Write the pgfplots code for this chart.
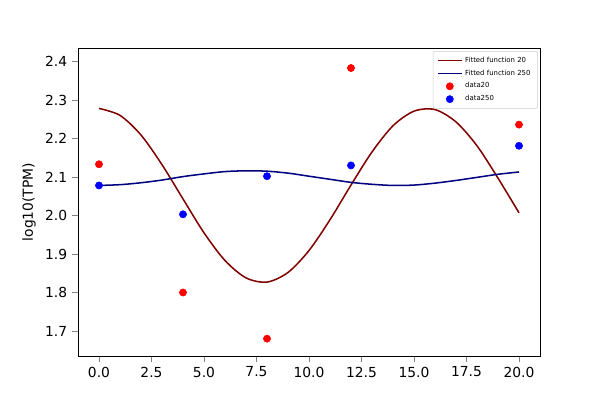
\documentclass[border=0pt]{standalone}
\usepackage{pgfplots}
\pgfplotsset{compat=1.18}
\usepackage{fontspec}
\setmainfont{DejaVu Sans}
\begin{document}
\begin{tikzpicture}
\begin{axis}[at={(0.03in,0)},anchor=south west,scale only axis,width=4.62in,height=3.08in,
xmin=-1,xmax=21,ymin=1.635,ymax=2.435,
xtick={0,2.5,...,20},ytick={1.7,1.8,...,2.41},
xticklabel style={/pgf/number format/.cd,fixed,fixed zerofill,precision=1},
yticklabel style={/pgf/number format/.cd,fixed,fixed zerofill,precision=1},
/pgf/number format/assume math mode=true,
tick label style={font=\fontsize{10}{12}\selectfont},
tick align=outside,tick pos=left,
ylabel={log10(TPM)},ylabel style={font=\fontsize{10}{12}\selectfont},
legend style={at={(0.995,0.99)},anchor=north east,font=\fontsize{5}{6}\selectfont,draw=black!20,rounded corners=1pt,legend cell align=left},
]
\addplot[color={rgb,255:red,128;green,0;blue,0},line width=1.1pt,smooth] coordinates {
(0,2.278)(1,2.260)(2,2.209)(3,2.132)(4,2.043)(5,1.955)(6,1.883)(7,1.838)(8,1.827)(9,1.852)(10,1.909)(11,1.989)(12,2.079)(13,2.165)(14,2.233)(15,2.271)(16,2.275)(17,2.243)(18,2.181)(19,2.097)(20,2.007)};
\addlegendentry{Fitted function 20}
\addplot[color={rgb,255:red,0;green,0;blue,128},line width=1.1pt,smooth] coordinates {
(0,2.078)(1,2.080)(2,2.085)(3,2.092)(4,2.101)(5,2.108)(6,2.114)(7,2.116)(8,2.115)(9,2.110)(10,2.102)(11,2.094)(12,2.086)(13,2.081)(14,2.078)(15,2.079)(16,2.084)(17,2.091)(18,2.099)(19,2.107)(20,2.113)};
\addlegendentry{Fitted function 250}
\addplot[only marks,mark=*,mark size=2.6pt,color=red] coordinates {(0,2.133)(4,1.80)(8,1.68)(12,2.383)(20,2.236)};
\addlegendentry{data20}
\addplot[only marks,mark=*,mark size=2.6pt,color=blue] coordinates {(0,2.078)(4,2.003)(8,2.102)(12,2.130)(20,2.181)};
\addlegendentry{data250}
\end{axis}
\path (-0.75in,-0.44in) rectangle ++(6in,4in);
\end{tikzpicture}
\end{document}
